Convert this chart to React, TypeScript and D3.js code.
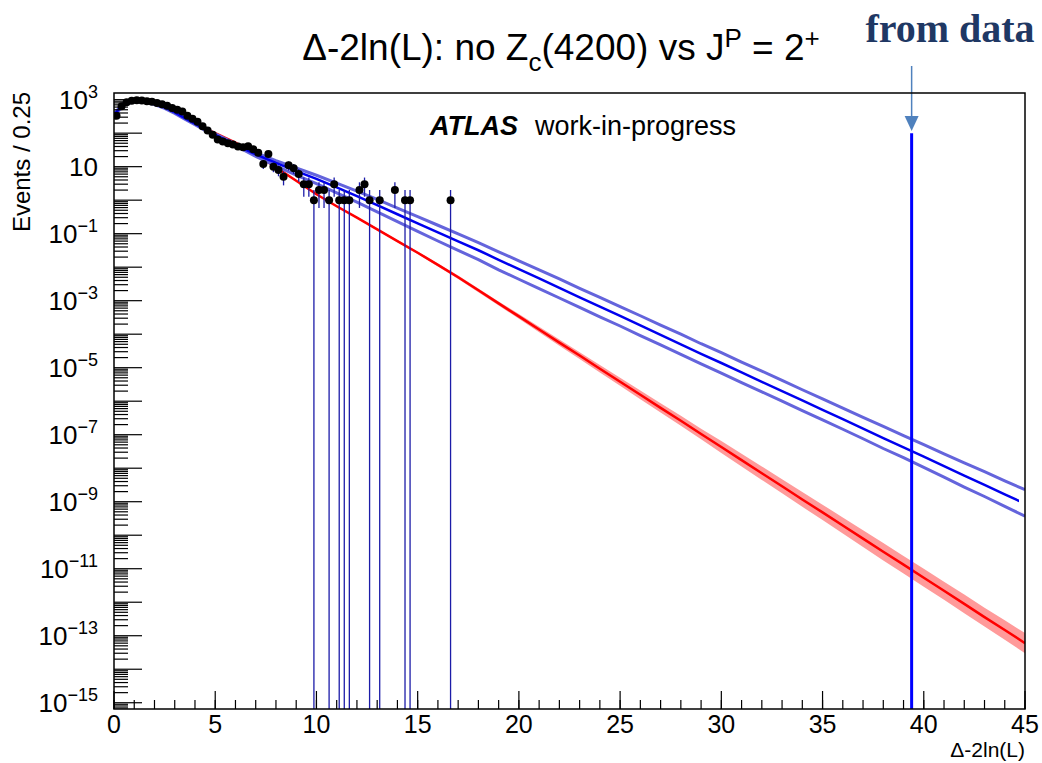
import React from 'react';
import * as d3 from 'd3';

const W = 1042;
const H = 763;
const PLOT = { left: 114, right: 1025, top: 93, bottom: 709 };

// x axis
const xDomain = [0, 45];
const xMajorTicks = [0, 5, 10, 15, 20, 25, 30, 35, 40, 45];
const xMinorTicks = d3.range(0, 46, 1);
// y axis (log)
const yDomain = [6.5e-16, 1.58e3];
const yLabelPowers = [3, 1, -1, -3, -5, -7, -9, -11, -13, -15];

// Red: expected distribution (null hypothesis), with uncertainty band (in decades)
const redX = [0, 0.25, 0.5, 0.75, 1, 1.5, 2, 2.5, 3, 3.5, 4, 4.5, 5, 5.5, 6, 7, 8, 9, 10, 11, 12, 13, 14, 15, 16, 17, 18, 19, 20, 21, 22, 23, 24, 25, 26, 27, 28, 29, 30, 31, 32, 33, 34, 35, 36, 37, 38, 39, 40, 41, 42, 43, 44, 45];
const redY = [355, 562, 759, 871, 933, 912, 776, 603, 427, 295, 204, 141, 100, 72, 52, 24, 9.5, 3.8, 1.5, 0.66, 0.3, 0.135, 0.06, 0.027, 0.0117, 5.0e-3, 2.04e-3, 8.3e-4, 3.4e-4, 1.38e-4, 5.6e-5, 2.3e-5, 9.3e-6, 3.8e-6, 1.55e-6, 6.3e-7, 2.6e-7, 1.05e-7, 4.3e-8, 1.74e-8, 7.1e-9, 2.9e-9, 1.17e-9, 4.8e-10, 1.95e-10, 7.9e-11, 3.2e-11, 1.32e-11, 5.4e-12, 2.2e-12, 8.9e-13, 3.6e-13, 1.48e-13, 6.0e-14];
const redErrDex = [0.01, 0.01, 0.01, 0.01, 0.01, 0.01, 0.01, 0.01, 0.01, 0.01, 0.01, 0.01, 0.01, 0.01, 0.01, 0.01, 0.01, 0.015, 0.02, 0.02, 0.025, 0.03, 0.035, 0.04, 0.045, 0.05, 0.055, 0.06, 0.07, 0.08, 0.09, 0.1, 0.11, 0.12, 0.13, 0.14, 0.15, 0.16, 0.18, 0.19, 0.2, 0.21, 0.22, 0.23, 0.24, 0.25, 0.26, 0.26, 0.27, 0.27, 0.28, 0.28, 0.29, 0.3];

// Blue: alternative hypothesis (J^P = 2+) central line and band edges (offsets in decades)
const blueX = [0, 0.5, 1, 1.5, 2, 2.5, 3, 3.5, 4, 4.5, 5, 5.5, 6, 7, 8, 9, 10, 11, 12, 13, 14, 15, 16, 17, 18, 19, 20, 21, 22, 23, 24, 25, 26, 27, 28, 29, 30, 31, 32, 33, 34, 35, 36, 37, 38, 39, 40, 41, 42, 43, 44, 45];
const blueY = [355, 759, 933, 912, 759, 589, 417, 282, 191, 129, 89, 63, 45, 23.4, 12.9, 7.4, 4.3, 2.4, 1.32, 0.71, 0.38, 0.204, 0.11, 0.059, 0.032, 0.0166, 8.7e-3, 4.6e-3, 2.4e-3, 1.26e-3, 6.6e-4, 3.5e-4, 1.82e-4, 9.5e-5, 5.0e-5, 2.6e-5, 1.38e-5, 7.2e-6, 3.8e-6, 2.0e-6, 1.05e-6, 5.5e-7, 2.9e-7, 1.51e-7, 7.9e-8, 4.2e-8, 2.2e-8, 1.15e-8, 6.0e-9, 3.2e-9, 1.66e-9, 8.7e-10];
const blueUpDex = [0.03, 0.03, 0.03, 0.03, 0.03, 0.03, 0.03, 0.03, 0.03, 0.03, 0.03, 0.03, 0.03, 0.05, 0.07, 0.09, 0.11, 0.13, 0.15, 0.17, 0.18, 0.2, 0.21, 0.22, 0.23, 0.24, 0.25, 0.26, 0.27, 0.27, 0.28, 0.28, 0.29, 0.29, 0.3, 0.3, 0.31, 0.31, 0.32, 0.32, 0.32, 0.33, 0.33, 0.34, 0.35, 0.35, 0.36, 0.37, 0.38, 0.39, 0.4, 0.42];
const blueDownDex = [0.03, 0.03, 0.03, 0.03, 0.03, 0.03, 0.03, 0.03, 0.03, 0.03, 0.03, 0.03, 0.03, 0.06, 0.09, 0.12, 0.14, 0.16, 0.18, 0.2, 0.22, 0.24, 0.26, 0.27, 0.28, 0.3, 0.3, 0.3, 0.3, 0.3, 0.3, 0.3, 0.3, 0.3, 0.3, 0.3, 0.3, 0.3, 0.3, 0.3, 0.3, 0.3, 0.3, 0.3, 0.31, 0.31, 0.32, 0.33, 0.34, 0.35, 0.36, 0.37];
const blueCentralEnd = 44.7;

// Toy data (bin centers, counts)
const dataX = [0.125, 0.375, 0.625, 0.875, 1.125, 1.375, 1.625, 1.875, 2.125, 2.375, 2.625, 2.875, 3.125, 3.375, 3.625, 3.875, 4.125, 4.375, 4.625, 4.875, 5.125, 5.375, 5.625, 5.875, 6.125, 6.375, 6.625, 6.875, 7.125, 7.375, 7.625, 7.875, 8.125, 8.375, 8.625, 8.875, 9.125, 9.375, 9.625, 9.875, 10.125, 10.375, 10.625, 10.875, 11.125, 11.375, 11.625, 12.125, 12.375, 12.625, 13.125, 13.875, 14.375, 14.625, 16.625];
const dataN = [330, 640, 830, 930, 960, 950, 900, 870, 800, 730, 660, 560, 500, 440, 330, 270, 220, 160, 120, 90, 65, 56, 50, 46, 40, 38, 41, 33, 26, 12, 24, 10, 8, 5, 11, 9, 6, 3, 3, 1, 2, 2, 1, 3, 1, 1, 1, 2, 3, 1, 1, 2, 1, 1, 1];

// Observed value from data
const observedValue = 39.4;
const observedTop = 100;

const SANS = 'Liberation Sans, Arial, Helvetica, sans-serif';

export default function App() {
  const x = d3.scaleLinear().domain(xDomain).range([PLOT.left, PLOT.right]);
  const y = d3.scaleLog().domain(yDomain).range([PLOT.bottom, PLOT.top]);
  const yc = (v: number) => (v <= 0 ? PLOT.bottom : Math.min(PLOT.bottom, y(v)));

  const redBand = d3
    .area<number>()
    .x((_, i) => x(redX[i]))
    .y0((v, i) => y(v / Math.pow(10, redErrDex[i])))
    .y1((v, i) => y(v * Math.pow(10, redErrDex[i])))(redY) as string;
  const redLine = d3
    .line<number>()
    .x((_, i) => x(redX[i]))
    .y((v) => y(v))(redY) as string;
  const blueLine = d3
    .line<number>()
    .x((_, i) => x(blueX[i]))
    .y((v) => y(v))(blueY) as string;
  const blueUp = d3
    .line<number>()
    .x((_, i) => x(blueX[i]))
    .y((v, i) => y(v * Math.pow(10, blueUpDex[i])))(blueY) as string;
  const blueDown = d3
    .line<number>()
    .x((_, i) => x(blueX[i]))
    .y((v, i) => y(v / Math.pow(10, blueDownDex[i])))(blueY) as string;

  // y ticks
  const yMajor: number[] = [];
  const yMinor: number[] = [];
  for (let e = -16; e <= 3; e++) {
    const base = Math.pow(10, e);
    if (base >= yDomain[0] && base <= yDomain[1]) yMajor.push(base);
    for (let k = 2; k <= 9; k++) {
      const v = k * base;
      if (v >= yDomain[0] && v <= yDomain[1]) yMinor.push(v);
    }
  }

  return (
    <svg
      width={W}
      height={H}
      style={{ position: 'absolute', left: 0, top: 0, background: '#fff' }}
      fontFamily={SANS}
    >
      <defs>
        <clipPath id="plotClip">
          <rect x={PLOT.left} y={PLOT.top} width={PLOT.right - PLOT.left} height={PLOT.bottom - PLOT.top} />
        </clipPath>
        <clipPath id="centralClip">
          <rect x={PLOT.left} y={PLOT.top} width={x(blueCentralEnd) - PLOT.left} height={PLOT.bottom - PLOT.top} />
        </clipPath>
      </defs>
      <rect x={0} y={0} width={W} height={H} fill="#fff" />

      {/* Title */}
      <text x={561} y={60} textAnchor="middle" fontSize={37} fill="#000">
        <tspan>Δ-2ln(L): no Z</tspan>
        <tspan fontSize={26} dy={11}>c</tspan>
        <tspan dy={-11}>(4200) vs J</tspan>
        <tspan fontSize={26} dy={-13}>P</tspan>
        <tspan dy={13}> = 2</tspan>
        <tspan fontSize={26} dy={-13}>+</tspan>
      </text>

      {/* from data annotation */}
      <text x={950} y={42} textAnchor="middle" fontFamily="Liberation Serif, Times New Roman, serif" fontWeight="bold" fontSize={40} fill="#1f3864">
        from data
      </text>
      <line x1={x(observedValue)} x2={x(observedValue)} y1={66} y2={118} stroke="#4f81bd" strokeWidth={1.5} />
      <polygon
        points={`${x(observedValue) - 7},116 ${x(observedValue) + 7},116 ${x(observedValue)},131`}
        fill="#4f81bd"
      />

      <g clipPath="url(#plotClip)">
        <path d={redBand} fill="#ff9a9a" stroke="none" />
        <path d={redLine} fill="none" stroke="#ff0000" strokeWidth={2.5} />
        <path d={blueUp} fill="none" stroke="#6464dc" strokeWidth={3} />
        <path d={blueDown} fill="none" stroke="#6464dc" strokeWidth={3} />
        <g clipPath="url(#centralClip)">
          <path d={blueLine} fill="none" stroke="#0000ee" strokeWidth={2.5} />
        </g>
        {/* data error bars */}
        {dataX.map((xv, i) => {
          const n = dataN[i];
          const s = Math.sqrt(n);
          return (
            <line
              key={'e' + i}
              x1={x(xv)}
              x2={x(xv)}
              y1={yc(n + s)}
              y2={yc(n - s)}
              stroke="#1c1ca8"
              strokeWidth={1.3}
            />
          );
        })}
        {dataX.map((xv, i) => (
          <circle key={'p' + i} cx={x(xv)} cy={y(dataN[i])} r={4} fill="#000" />
        ))}
        {/* observed value line */}
        <line
          x1={x(observedValue)}
          x2={x(observedValue)}
          y1={y(observedTop)}
          y2={PLOT.bottom}
          stroke="#0000ff"
          strokeWidth={3}
        />
      </g>

      {/* ATLAS label */}
      <text x={430} y={135} fontSize={27} fontWeight="bold" fontStyle="italic" fill="#000">
        ATLAS
      </text>
      <text x={535} y={135} fontSize={27} fill="#000">
        work-in-progress
      </text>

      {/* frame */}
      <rect
        x={PLOT.left}
        y={PLOT.top}
        width={PLOT.right - PLOT.left}
        height={PLOT.bottom - PLOT.top}
        fill="none"
        stroke="#000"
        strokeWidth={1.5}
      />

      {/* x ticks */}
      {xMinorTicks.map((t) => (
        <line key={'xm' + t} x1={x(t)} x2={x(t)} y1={PLOT.bottom} y2={PLOT.bottom - 9} stroke="#000" strokeWidth={1.2} />
      ))}
      {xMajorTicks.map((t) => (
        <line key={'xM' + t} x1={x(t)} x2={x(t)} y1={PLOT.bottom} y2={PLOT.bottom - 18} stroke="#000" strokeWidth={1.2} />
      ))}
      {xMajorTicks.map((t) => (
        <text key={'xl' + t} x={x(t)} y={733} textAnchor="middle" fontSize={25} fill="#000">
          {t}
        </text>
      ))}
      <text x={PLOT.right} y={757} textAnchor="end" fontSize={21} fill="#000">
        Δ-2ln(L)
      </text>

      {/* y ticks */}
      {yMinor.map((v, i) => (
        <line key={'ym' + i} x1={PLOT.left} x2={PLOT.left + 14} y1={y(v)} y2={y(v)} stroke="#000" strokeWidth={1.2} />
      ))}
      {yMajor.map((v, i) => (
        <line key={'yM' + i} x1={PLOT.left} x2={PLOT.left + 28} y1={y(v)} y2={y(v)} stroke="#000" strokeWidth={1.2} />
      ))}
      {yLabelPowers.map((p) => (
        <text key={'yl' + p} x={98} y={y(Math.pow(10, p)) + 9} textAnchor="end" fontSize={26} fill="#000">
          {p === 1 ? (
            <tspan>10</tspan>
          ) : (
            <>
              <tspan>10</tspan>
              <tspan fontSize={18} dy={-11}>{String(p).replace('-', '\u2212')}</tspan>
            </>
          )}
        </text>
      ))}
      <text transform={`translate(30, 92) rotate(-90)`} textAnchor="end" fontSize={24} fill="#000">
        Events / 0.25
      </text>
    </svg>
  );
}
